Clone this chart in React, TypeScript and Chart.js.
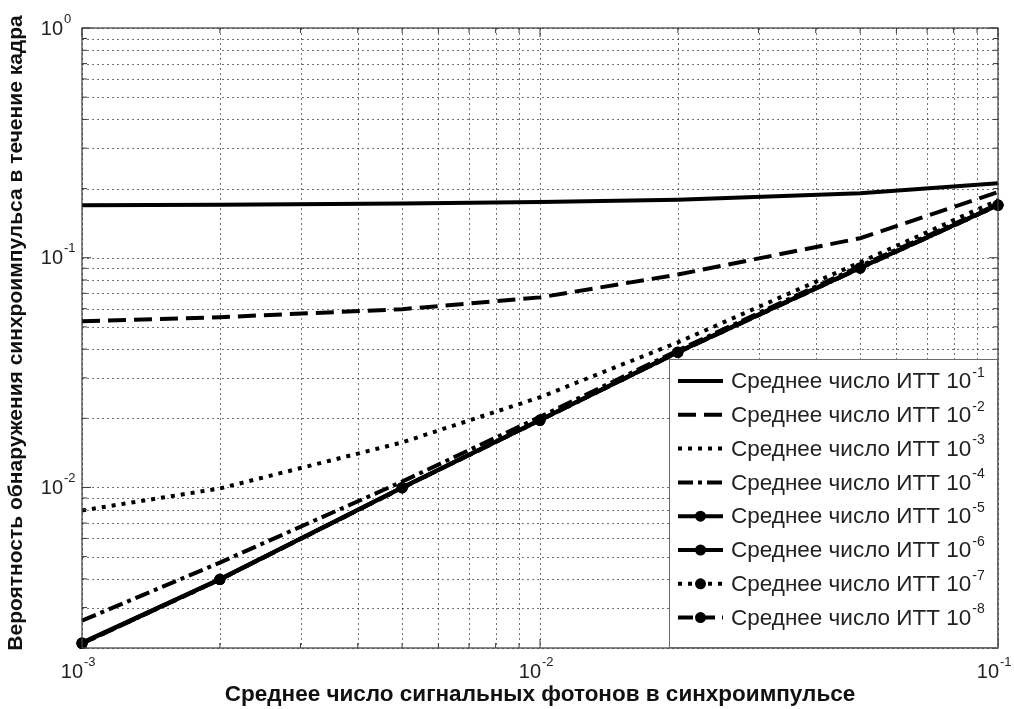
import React, { useEffect, useRef } from 'react';
import { Chart, registerables } from 'chart.js';

Chart.register(...registerables);

// ---------- data ----------
const photonCounts = [0.001, 0.002, 0.005, 0.01, 0.02, 0.05, 0.1];

const noiseExponents = ['-1', '-2', '-3', '-4', '-5', '-6', '-7', '-8'];
const labelPrefix = 'Среднее число ИТТ 10';

const seriesNoise1 = [0.169, 0.17, 0.172, 0.175, 0.179, 0.191, 0.211];
const seriesNoise2 = [0.0529, 0.0551, 0.0597, 0.0672, 0.0845, 0.1216, 0.193];
const seriesNoise3 = [0.00794, 0.0099, 0.0157, 0.0247, 0.0428, 0.0955, 0.178];
const seriesNoise4 = [0.00263, 0.00471, 0.0106, 0.0203, 0.0395, 0.092, 0.171];
const seriesNoise5 = [0.00211, 0.00399, 0.01, 0.0197, 0.0389, 0.0905, 0.17];
const seriesNoise6 = [0.0021, 0.00398, 0.00998, 0.0196, 0.0388, 0.0902, 0.1695];
const seriesNoise7 = [0.00209, 0.00397, 0.00995, 0.0196, 0.0387, 0.09, 0.169];
const seriesNoise8 = [0.00209, 0.00397, 0.00995, 0.0196, 0.0387, 0.09, 0.169];

const xMin = 0.001;
const xMax = 0.1;
const yMin = 0.002;
const yMax = 1;

const xDecades = [0.001, 0.01, 0.1];
const yDecades = [0.001, 0.01, 0.1, 1];
const gridMultipliers = [1, 2, 3, 4, 5, 6, 7, 8, 9];

const xTickValues = [0.001, 0.01, 0.1];
const xTickExponents = ['-3', '-2', '-1'];
const yTickValues = [0.01, 0.1, 1];
const yTickExponents = ['-2', '-1', '0'];

const xTitle = 'Среднее число сигнальных фотонов в синхроимпульсе';
const yTitle = 'Вероятность обнаружения синхроимпульса в течение кадра';

// ---------- helpers ----------
const FONT = '"Liberation Sans", Arial, Helvetica, sans-serif';

function gridValues(decades: number[], lo: number, hi: number) {
  const out: number[] = [];
  decades.forEach((d) => {
    gridMultipliers.forEach((m) => {
      const v = +(d * m).toPrecision(6);
      if (v >= lo * 0.9999 && v <= hi * 1.0001 && !out.includes(v)) out.push(v);
    });
  });
  return out.sort((a, b) => a - b);
}

const xGrid = gridValues(xDecades, xMin, xMax);
const yGrid = gridValues(yDecades, yMin, yMax);

const styles = [
  { dash: [] as number[], marker: false },
  { dash: [18, 8], marker: false },
  { dash: [4, 6], marker: false },
  { dash: [15, 5, 4, 5], marker: false },
  { dash: [] as number[], marker: true },
  { dash: [] as number[], marker: true },
  { dash: [4, 6], marker: true },
  { dash: [15, 7], marker: true },
];

const allSeries = [
  seriesNoise1, seriesNoise2, seriesNoise3, seriesNoise4,
  seriesNoise5, seriesNoise6, seriesNoise7, seriesNoise8,
];

function isMajor(v: number) {
  const l = Math.log10(v);
  return Math.abs(l - Math.round(l)) < 1e-6;
}

const gridPlugin = {
  id: 'dottedGrid',
  beforeDatasetsDraw(chart: any) {
    const { ctx, chartArea: ca, scales } = chart;
    ctx.save();
    ctx.strokeStyle = 'rgba(0,0,0,0.55)';
    ctx.lineWidth = 1;
    ctx.setLineDash([2, 3]);
    xGrid.forEach((v) => {
      const px = Math.round(scales.x.getPixelForValue(v)) + 0.5;
      ctx.beginPath();
      ctx.moveTo(px, ca.top);
      ctx.lineTo(px, ca.bottom);
      ctx.stroke();
    });
    yGrid.forEach((v) => {
      const py = Math.round(scales.y.getPixelForValue(v)) + 0.5;
      ctx.beginPath();
      ctx.moveTo(ca.left, py);
      ctx.lineTo(ca.right, py);
      ctx.stroke();
    });
    ctx.restore();
  },
};

const overlayPlugin = {
  id: 'matlabOverlay',
  afterDraw(chart: any) {
    const { ctx, chartArea: ca, scales } = chart;
    const xs = scales.x;
    const ys = scales.y;
    ctx.save();
    ctx.setLineDash([]);

    // axes box
    ctx.strokeStyle = '#3a3a3a';
    ctx.lineWidth = 1.2;
    ctx.strokeRect(ca.left, ca.top, ca.right - ca.left, ca.bottom - ca.top);

    // inward ticks
    ctx.lineWidth = 1;
    xGrid.forEach((v) => {
      const px = xs.getPixelForValue(v);
      const len = isMajor(v) ? 9 : 5;
      ctx.beginPath();
      ctx.moveTo(px, ca.bottom);
      ctx.lineTo(px, ca.bottom - len);
      ctx.moveTo(px, ca.top);
      ctx.lineTo(px, ca.top + len);
      ctx.stroke();
    });
    yGrid.forEach((v) => {
      const py = ys.getPixelForValue(v);
      const len = isMajor(v) ? 9 : 5;
      ctx.beginPath();
      ctx.moveTo(ca.left, py);
      ctx.lineTo(ca.left + len, py);
      ctx.moveTo(ca.right, py);
      ctx.lineTo(ca.right - len, py);
      ctx.stroke();
    });

    // tick labels
    ctx.fillStyle = '#222';
    ctx.textBaseline = 'middle';
    xTickValues.forEach((v, i) => {
      const px = xs.getPixelForValue(v);
      const py = ca.bottom + 24;
      ctx.font = `20px ${FONT}`;
      ctx.textAlign = 'right';
      ctx.fillText('10', px + 1, py);
      ctx.font = `13px ${FONT}`;
      ctx.textAlign = 'left';
      ctx.fillText(xTickExponents[i], px + 2, py - 10);
    });
    yTickValues.forEach((v, i) => {
      const py = ys.getPixelForValue(v);
      ctx.font = `20px ${FONT}`;
      ctx.textAlign = 'right';
      ctx.fillText('10', 63, py + 1);
      ctx.font = `13px ${FONT}`;
      ctx.textAlign = 'left';
      ctx.fillText(yTickExponents[i], 64, py - 9);
    });

    // axis titles
    ctx.font = `bold 22.5px ${FONT}`;
    ctx.textAlign = 'center';
    ctx.fillStyle = '#111';
    ctx.fillText(xTitle, (ca.left + ca.right) / 2, ca.bottom + 47);
    ctx.font = `bold 21px ${FONT}`;
    ctx.save();
    ctx.translate(16, (ca.top + ca.bottom) / 2 - 5);
    ctx.rotate(-Math.PI / 2);
    ctx.fillText(yTitle, 0, 0);
    ctx.restore();

    // legend
    const lw = 329;
    const lh = 289;
    const lx = ca.right - lw;
    const ly = ca.bottom - lh;
    ctx.fillStyle = '#fff';
    ctx.fillRect(lx, ly, lw, lh);
    ctx.strokeStyle = '#6a6a6a';
    ctx.lineWidth = 1;
    ctx.strokeRect(lx + 0.5, ly + 0.5, lw - 1, lh - 1);

    const rowStep = 33.8;
    chart.data.datasets.forEach((ds: any, i: number) => {
      const y = ly + 22 + i * rowStep;
      const x0 = lx + 9;
      const x1 = lx + 54;
      ctx.strokeStyle = '#000';
      ctx.lineWidth = ds.borderWidth;
      ctx.setLineDash(ds.borderDash || []);
      ctx.beginPath();
      ctx.moveTo(x0, y);
      ctx.lineTo(x1, y);
      ctx.stroke();
      ctx.setLineDash([]);
      if (ds.pointRadius > 0) {
        ctx.lineWidth = ds.pointBorderWidth;
        ctx.beginPath();
        ctx.arc((x0 + x1) / 2, y, ds.pointRadius, 0, Math.PI * 2);
        ctx.fillStyle = '#000';
        ctx.fill();
        ctx.stroke();
      }
      ctx.fillStyle = '#222';
      ctx.font = `22.5px ${FONT}`;
      ctx.textAlign = 'left';
      ctx.textBaseline = 'middle';
      const tx = lx + 62;
      ctx.fillText(labelPrefix, tx, y + 1);
      const w = ctx.measureText(labelPrefix).width;
      ctx.font = `14px ${FONT}`;
      ctx.fillText(noiseExponents[i], tx + w + 1, y - 8);
    });

    ctx.restore();
  },
};

export default function App() {
  const canvasRef = useRef<HTMLCanvasElement | null>(null);

  useEffect(() => {
    const canvas = canvasRef.current;
    if (!canvas) return;

    const datasets = allSeries.map((vals, i) => ({
      label: labelPrefix + noiseExponents[i],
      data: photonCounts.map((x, j) => ({ x, y: vals[j] })),
      borderColor: '#000',
      backgroundColor: '#000',
      borderWidth: 4,
      borderDash: styles[i].dash,
      borderCapStyle: 'butt' as const,
      pointRadius: styles[i].marker ? 4.5 : 0,
      pointBorderWidth: 2,
      pointBorderColor: '#000',
      pointBackgroundColor: '#000',
      pointHoverRadius: 0,
      tension: 0,
      fill: false,
      clip: false as any,
    }));

    const chart = new Chart(canvas, {
      type: 'line',
      data: { datasets },
      options: {
        animation: false,
        responsive: false,
        maintainAspectRatio: false,
        events: [],
        layout: { padding: { left: 0, top: 28, right: 16, bottom: 0 } },
        plugins: {
          legend: { display: false },
          tooltip: { enabled: false },
        },
        scales: {
          x: {
            type: 'logarithmic',
            min: xMin,
            max: xMax,
            afterBuildTicks: (scale: any) => {
              scale.ticks = xGrid.map((v) => ({ value: v, major: isMajor(v) }));
            },
            afterFit: (scale: any) => {
              scale.height = 61;
            },
            ticks: { display: false, autoSkip: false },
            grid: { display: false },
            border: { display: false },
          },
          y: {
            type: 'logarithmic',
            min: yMin,
            max: yMax,
            afterBuildTicks: (scale: any) => {
              scale.ticks = yGrid.map((v) => ({ value: v, major: isMajor(v) }));
            },
            afterFit: (scale: any) => {
              scale.width = 82;
            },
            ticks: { display: false, autoSkip: false },
            grid: { display: false },
            border: { display: false },
          },
        },
      },
      plugins: [
        {
          id: 'whiteBg',
          beforeDraw(c: any) {
            const ctx = c.ctx;
            ctx.save();
            ctx.fillStyle = '#fff';
            ctx.fillRect(0, 0, c.width, c.height);
            ctx.restore();
          },
        },
        gridPlugin,
        overlayPlugin,
      ],
    } as any);

    return () => {
      chart.destroy();
    };
  }, []);

  return (
    <div style={{ position: 'absolute', left: 0, top: 0, width: 1014, height: 709, background: '#fff' }}>
      <canvas ref={canvasRef} width={1014} height={709} style={{ display: 'block', width: 1014, height: 709 }} />
    </div>
  );
}
